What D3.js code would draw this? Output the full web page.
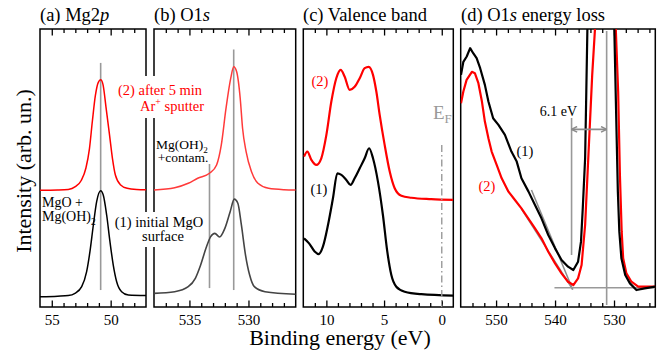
<!DOCTYPE html>
<html>
<head>
<meta charset="utf-8">
<script src="https://cdn.jsdelivr.net/npm/d3@7"></script>
<style>
body { margin: 0; background: #fff; }
svg { display: block; }
svg text { font-family: "Liberation Serif", "DejaVu Serif", serif; }
</style>
</head>
<body>
<div id="viz"></div>
<script>
// spectra: [binding energy (eV), intensity (arb. un., 0..100 = panel height)]
var mg2pInitial = [[56.0,3.7],[54.5,3.9],[53.6,4.1],[53.03,4.9],[52.46,7.3],[52.04,12.7],[51.76,19.9],[51.47,29.5],[51.19,37.9],[50.85,41.8],[50.63,40.3],[50.34,33.1],[50.06,23.5],[49.78,15.1],[49.49,9.1],[49.07,5.5],[48.5,4.3],[47.0,4.1]];
var mg2pSputter = [[56.0,42.0],[54.5,42.1],[53.6,42.3],[53.0,43.3],[52.5,45.5],[52.1,50.0],[51.8,57.0],[51.55,67.0],[51.3,76.0],[51.05,80.8],[50.85,81.7],[50.65,80.0],[50.4,72.0],[50.1,62.0],[49.85,53.5],[49.6,47.5],[49.15,43.9],[48.6,42.7],[47.8,42.3],[47.0,42.2]];

var o1sInitial = [[538,4.9],[536.25,5.5],[535.1,7.3],[534.5,10.3],[534.05,15.1],[533.6,21.1],[533.2,25.3],[532.85,26.5],[532.45,25.2],[532.0,28.3],[531.55,34.3],[531.2,38.8],[530.9,37.3],[530.6,29.5],[530.25,18.7],[529.9,11.5],[529.5,7.3],[528.6,5.5],[526,4.6]];
var o1sSputter = [[538,42.1],[536.25,42.9],[535.1,44.5],[534.3,46.3],[533.3,48.1],[532.7,51.1],[532.3,58.3],[531.9,71.5],[531.5,82.3],[531.25,86.4],[531.0,84.6],[530.7,75.1],[530.5,64.3],[530.2,55.9],[529.75,48.7],[529.2,44.5],[528.3,42.7],[527.0,42.2],[526,42.1]];

var vbInitial = [[11.94,24.7],[11.5,22.9],[11.0,19.9],[10.67,19.0],[10.3,21.7],[9.86,29.5],[9.43,39.1],[9.05,48.1],[8.7,47.5],[8.27,45.7],[7.9,43.9],[7.55,46.3],[7.11,49.9],[6.68,53.5],[6.3,57.1],[5.96,53.5],[5.53,45.1],[5.1,33.1],[4.72,19.9],[4.37,11.5],[3.94,7.3],[3.21,5.5],[1.77,4.6],[-1,4.1]];
var vbSputter = [[11.94,54.1],[11.65,55.9],[11.3,52.9],[10.87,51.1],[10.44,53.5],[10.0,61.9],[9.57,73.9],[9.14,82.3],[8.76,85.3],[8.41,82.8],[7.98,78.1],[7.55,79.2],[7.11,82.3],[6.68,85.9],[6.33,86.4],[5.96,83.5],[5.67,77.5],[5.38,69.1],[4.95,58.3],[4.51,48.7],[4.08,42.7],[3.5,40.0],[2.64,39.3],[0.91,38.8],[-1,38.5]];

var lossInitial = [[555.95,83.5],[555.55,88.2],[554.98,90.1],[554.4,93.1],[553.85,91.2],[553.3,89.5],[552.7,85.9],[551.9,79.9],[551.3,73.9],[550.5,67.9],[549.6,65.5],[548.5,61.9],[547.4,55.9],[546.5,52.3],[545.7,46.3],[544.5,41.5],[543.4,36.7],[542.3,31.9],[541.15,25.9],[540.0,21.1],[538.9,16.9],[537.8,14.5],[536.9,13.3],[536.1,16.3],[535.6,23.5],[535.3,35.5],[534.9,53.5],[534.7,77.5],[534.5,102],[534.3,130],[530.2,130],[529.95,100],[529.6,65.5],[529.35,41.5],[529.1,27.1],[528.75,17.5],[528.1,11.5],[527.3,8.5],[526.2,6.1],[524.8,6.7],[523,7.3]];
var lossSputter = [[555.95,73.3],[555.55,77.5],[555.0,81.7],[554.1,84.6],[553.6,84.1],[553.0,80.5],[552.4,73.9],[551.9,66.7],[551.3,60.7],[550.75,55.9],[549.9,51.1],[549.05,46.3],[547.9,41.5],[546.8,38.5],[545.7,35.5],[544.55,31.9],[543.4,28.3],[542.3,24.7],[541.15,19.9],[540.0,15.7],[538.9,12.1],[537.8,9.1],[536.9,7.9],[536.1,10.3],[535.5,15.1],[534.9,29.5],[534.5,47.5],[534.1,65.5],[533.7,83.5],[533.2,101],[533.0,130],[529.9,130],[529.7,100],[529.3,77.5],[529.0,47.5],[528.7,27.1],[528.45,17.5],[527.9,12.1],[527.05,9.1],[525.9,7.3],[524.5,7.3],[523,7.3]];

// peak markers / construction lines: [eV, from, to]
var mg2pMarks = [[50.85, 87.8, 6.1]];
var o1sMarks = [[531.25, 92.6, 6.1], [533.3, 51.4, 6.8]];
var lossMarks = [[531.25, 99.3, 0.7], [537.2, 68, 18.7]];
var lossTangents = [[[544.0,42.1],[537.0,6.3]], [[545.7,35.3],[537.0,6.3]]];
var lossBaseline = [[540.1,6.9],[523,6.9]];
var lossArrow = [[537.2,63.9],[531.25,63.9]];
var fermi = [0, 58.3, 0];

// axis ticks
var mg2pTicks = [55, 50], o1sTicks = [535, 530], vbTicks = [10, 5, 0], lossTicks = [550, 540, 530];

var SERIF = "'Liberation Serif', 'DejaVu Serif', serif";
var W = 659, H = 354, plotTop = 29, plotBottom = 307;

var svg = d3.select("#viz").append("svg")
  .attr("width", W)
  .attr("height", H)
  .attr("font-family", SERIF);

var defs = svg.append("defs");
defs.append("marker")
  .attr("id", "head")
  .attr("viewBox", "0 0 10 10")
  .attr("refX", 9).attr("refY", 5)
  .attr("markerWidth", 7).attr("markerHeight", 7)
  .attr("markerUnits", "userSpaceOnUse")
  .attr("orient", "auto-start-reverse")
  .append("path")
  .attr("d", "M1,1 L9,5 L1,9")
  .attr("fill", "none")
  .attr("stroke", "#8c8c8c")
  .attr("stroke-width", 2.2);

var y = d3.scaleLinear().domain([0, 100]).range([plotBottom, plotTop]);

function panel(id, left, right, domain, step, majors) {
  var x = d3.scaleLinear().domain(domain).range([left, right]);
  var lo = Math.min(domain[0], domain[1]), hi = Math.max(domain[0], domain[1]);
  var minor = d3.range(Math.ceil(lo / step) * step, hi, step)
    .filter(function(t) { return t > lo + 0.01 && t < hi - 0.01 && majors.indexOf(t) < 0; });

  defs.append("clipPath").attr("id", "clip-" + id)
    .append("rect")
    .attr("x", left).attr("y", plotTop)
    .attr("width", right - left).attr("height", plotBottom - plotTop);

  var g = svg.append("g");

  [[d3.axisBottom, plotBottom], [d3.axisTop, plotTop]].forEach(function(a) {
    var gm = g.append("g").attr("transform", "translate(0," + a[1] + ")")
      .call(a[0](x).tickValues(minor).tickSize(-4).tickFormat(""));
    var gM = g.append("g").attr("transform", "translate(0," + a[1] + ")")
      .call(a[0](x).tickValues(majors).tickSize(-6.5).tickPadding(7)
        .tickFormat(a[1] === plotBottom ? d3.format("d") : ""));
    [gm, gM].forEach(function(s) {
      s.attr("font-family", SERIF).attr("font-size", 15);
      s.select(".domain").remove();
      s.selectAll("line").attr("stroke", "#000").attr("stroke-width", 1.3);
      s.selectAll("text").attr("fill", "#000");
    });
  });

  g.append("rect")
    .attr("x", left).attr("y", plotTop)
    .attr("width", right - left).attr("height", plotBottom - plotTop)
    .attr("fill", "none").attr("stroke", "#000").attr("stroke-width", 1.5);

  var plot = svg.append("g").attr("clip-path", "url(#clip-" + id + ")");
  return { x: x, g: g, plot: plot };
}

var pa = panel("a", 40, 146, [56, 47], 1, mg2pTicks);
var pb = panel("b", 154, 295.7, [538, 526], 1, o1sTicks);
var pc = panel("c", 303.3, 453.3, [12, -1], 1, vbTicks);
var pd = panel("d", 460.7, 655.3, [556, 523], 2, lossTicks);

// white boxes behind the long annotations (they cut the frames)
svg.append("rect").attr("x", 116).attr("y", 76).attr("width", 90).attr("height", 42).attr("fill", "#fff");
svg.append("rect").attr("x", 114).attr("y", 212).attr("width", 91).attr("height", 35).attr("fill", "#fff");

function marks(p, list) {
  p.plot.selectAll(null).data(list).enter().append("line")
    .attr("x1", function(d) { return p.x(d[0]); })
    .attr("x2", function(d) { return p.x(d[0]); })
    .attr("y1", function(d) { return y(d[1]); })
    .attr("y2", function(d) { return y(d[2]); })
    .attr("stroke", "#999").attr("stroke-width", 1.6);
}
marks(pa, mg2pMarks);
marks(pb, o1sMarks);
marks(pd, lossMarks);

function curve(p, data, color, width, smooth) {
  var line = d3.line()
    .x(function(d) { return p.x(d[0]); })
    .y(function(d) { return y(d[1]); })
    .curve(smooth ? d3.curveMonotoneX : d3.curveLinear);
  p.plot.append("path")
    .datum(data)
    .attr("d", line)
    .attr("fill", "none")
    .attr("stroke", color)
    .attr("stroke-width", width)
    .attr("stroke-linejoin", "round");
}

curve(pa, mg2pSputter, "#ff0000", 1.5, true);
curve(pa, mg2pInitial, "#000", 1.5, true);
curve(pb, o1sSputter, "#ff3a3a", 1.5, true);
curve(pb, o1sInitial, "#444", 1.6, true);
curve(pc, vbSputter, "#ff0000", 2.2, true);
curve(pc, vbInitial, "#000", 2.2, true);

// Fermi level
pc.plot.append("line")
  .attr("x1", pc.x(fermi[0])).attr("x2", pc.x(fermi[0]))
  .attr("y1", y(fermi[1])).attr("y2", y(fermi[2]))
  .attr("stroke", "#999").attr("stroke-width", 1.4)
  .attr("stroke-dasharray", "7,3,1.5,3");

// loss panel construction lines
var lossLine = d3.line().x(function(d) { return pd.x(d[0]); }).y(function(d) { return y(d[1]); });
lossTangents.forEach(function(t) {
  pd.plot.append("path").attr("d", lossLine(t))
    .attr("stroke", "#8c8c8c").attr("stroke-width", 1.5).attr("fill", "none");
});
pd.plot.append("path").attr("d", lossLine(lossBaseline))
  .attr("stroke", "#999").attr("stroke-width", 1.6).attr("fill", "none");

curve(pd, lossSputter, "#ff0000", 2.2, false);
curve(pd, lossInitial, "#000", 2.2, false);

svg.append("path").attr("d", lossLine(lossArrow))
  .attr("stroke", "#8c8c8c").attr("stroke-width", 1.6).attr("fill", "none")
  .attr("marker-start", "url(#head)").attr("marker-end", "url(#head)");

// titles
function title(x, parts) {
  var t = svg.append("text").attr("x", x).attr("y", 21).attr("font-size", 18.5)
    .attr("font-family", SERIF).attr("fill", "#000");
  parts.forEach(function(p) {
    t.append("tspan").attr("font-style", p[1] ? "italic" : null).text(p[0]);
  });
}
title(40, [["(a) Mg2", 0], ["p", 1]]);
title(154, [["(b) O1", 0], ["s", 1]]);
title(303, [["(c) Valence band", 0]]);
title(461, [["(d) O1", 0], ["s", 1], [" energy loss", 0]]);

// axis labels
svg.append("text")
  .attr("x", 340).attr("y", 345)
  .attr("text-anchor", "middle").attr("font-size", 22).attr("font-family", SERIF)
  .text("Binding energy (eV)");
svg.append("text")
  .attr("transform", "translate(31,171) rotate(-90)")
  .attr("text-anchor", "middle").attr("font-size", 22).attr("font-family", SERIF)
  .text("Intensity (arb. un.)");

// annotations
function note(x, yy, anchor, color, size, parts) {
  var t = svg.append("text").attr("x", x).attr("y", yy).attr("font-family", SERIF)
    .attr("text-anchor", anchor).attr("font-size", size).attr("fill", color);
  parts.forEach(function(p) {
    var s = t.append("tspan").text(p[0]);
    if (p[1] === "sub") s.attr("font-size", size * 0.68).attr("dy", 4);
    if (p[1] === "sup") s.attr("font-size", size * 0.68).attr("dy", -6);
    if (p[1] === "back") s.attr("dy", p[2]);
  });
}
note(160, 95, "middle", "#ff0000", 14.5, [["(2) after 5 min"]]);
note(172, 111, "middle", "#ff0000", 14.5, [["Ar"], ["+", "sup"], [" sputter", "back", 6]]);
note(159, 227, "middle", "#000", 14.5, [["(1) initial MgO"]]);
note(163, 241, "middle", "#000", 14.5, [["surface"]]);
note(42, 207, "start", "#000", 14, [["MgO +"]]);
note(42, 221, "start", "#000", 14, [["Mg(OH)"], ["2", "sub"]]);
note(182, 149, "middle", "#000", 13.5, [["Mg(OH)"], ["2", "sub"]]);
note(183, 162, "middle", "#000", 13.5, [["+contam."]]);
note(320, 86, "middle", "#ff0000", 14.5, [["(2)"]]);
note(319, 194, "middle", "#000", 14.5, [["(1)"]]);
note(433, 119, "start", "#999", 19, [["E"], ["F", "sub"]]);
note(558.5, 116, "middle", "#000", 14, [["6.1 eV"]]);
note(525, 156, "middle", "#000", 14.5, [["(1)"]]);
note(487, 191, "middle", "#ff0000", 14.5, [["(2)"]]);
</script>
</body>
</html>
